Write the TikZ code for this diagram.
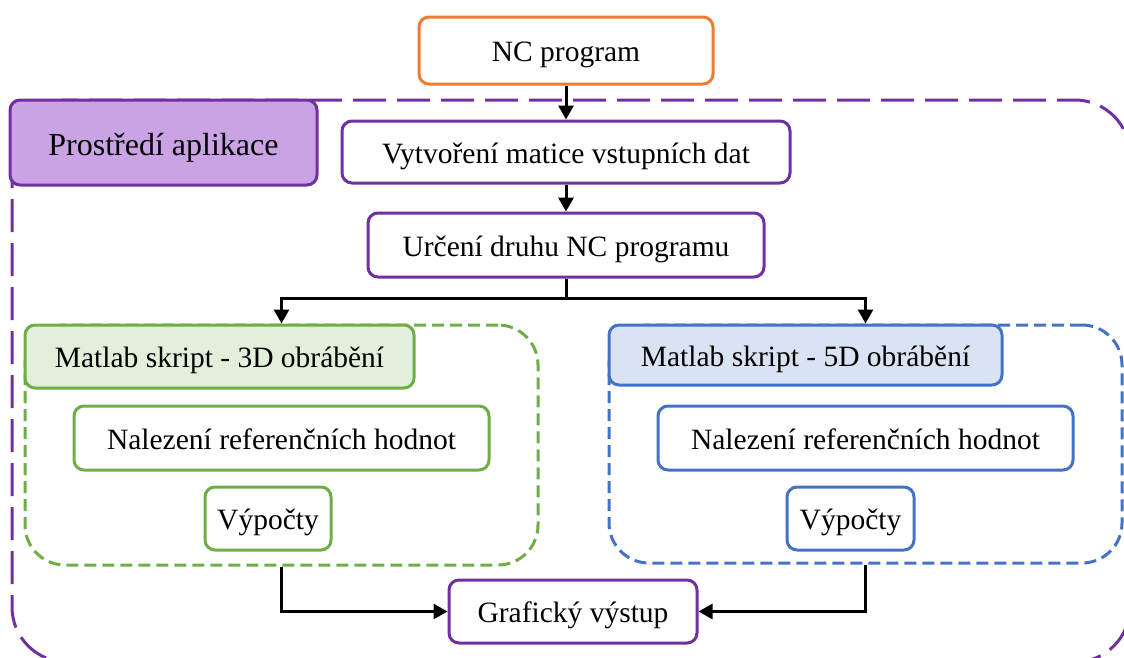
\documentclass[tikz,border=0pt]{standalone}
\usepackage{fontspec}
\setmainfont{Liberation Serif}
\usetikzlibrary{arrows.meta,positioning}

\definecolor{ncorange}{HTML}{ED7D31}
\definecolor{apppurple}{HTML}{7030A0}
\definecolor{appfill}{HTML}{C9A3E3}
\definecolor{gr}{HTML}{70AD47}
\definecolor{grfill}{HTML}{E2EFDA}
\definecolor{bl}{HTML}{4472C4}
\definecolor{blfill}{HTML}{DAE3F3}

\tikzset{
  box/.style={draw, line width=3pt, rounded corners=10pt, fill=white,
    inner sep=0pt, align=center, text height=24pt, text depth=2pt,
    font=\fontsize{29.5}{34}\selectfont},
  container/.style={draw, line width=3pt, rounded corners=40pt,
    inner sep=0pt, dash pattern=on 12pt off 6pt},
  conn/.style={line width=3pt, -{Triangle[length=14pt,width=15pt]}},
}

\begin{document}
\begin{tikzpicture}[x=1pt,y=-1pt]
\useasboundingbox (0,0) rectangle (1124,657);
\clip (0,0) rectangle (1124,657);

% application environment frame (runs past the page edges)
\draw[apppurple, line width=3pt, rounded corners=55pt, dash pattern=on 33pt off 11pt]
  (12,100) rectangle (1130,662);

% top input
\node[box, draw=ncorange, minimum width=294pt, minimum height=67pt] (nc) at (566,50.5) {NC program};

% environment label
\node[box, draw=apppurple, fill=appfill, minimum width=307pt, minimum height=85pt,
  text height=27pt, font=\fontsize{32}{38}\selectfont] (env) at (163.5,142.5) {Prostředí aplikace};

\node[box, draw=apppurple, minimum width=448pt, minimum height=62pt] (vyt) at (566,152) {Vytvoření matice vstupních dat};
\node[box, draw=apppurple, minimum width=396pt, minimum height=64pt] (urc) at (566,245) {Určení druhu NC programu};

% script containers
\node[container, draw=gr, minimum width=513pt, minimum height=240pt] (g) at (281.5,445) {};
\node[container, draw=bl, minimum width=513pt, minimum height=238pt] (b) at (865.5,444) {};

\node[box, draw=gr, fill=grfill, minimum width=389pt, minimum height=63pt, anchor=north west] (glab) at (g.north west) {Matlab skript - 3D obrábění};
\node[box, draw=bl, fill=blfill, minimum width=393pt, minimum height=60pt, anchor=north west] (blab) at (b.north west) {Matlab skript - 5D obrábění};

\node[box, draw=gr, minimum width=415pt, minimum height=64pt] (gnal) at (281.5,438) {Nalezení referenčních hodnot};
\node[box, draw=gr, minimum width=126pt, minimum height=63pt] (gvyp) at (268,518.5) {Výpočty};
\node[box, draw=bl, minimum width=415pt, minimum height=64pt] (bnal) at (865.5,438) {Nalezení referenčních hodnot};
\node[box, draw=bl, minimum width=127pt, minimum height=63pt] (bvyp) at (850.5,518.5) {Výpočty};

\node[box, draw=apppurple, minimum width=248pt, minimum height=63pt] (gout) at (573,611.5) {Grafický výstup};

% connectors
\draw[conn] (nc.south) -- (vyt.north);
\draw[conn] (vyt.south) -- (urc.north);
\coordinate (split) at (566,298);
\draw[line width=3pt] (urc.south) -- (split);
\draw[conn] (split) -| (g.north);
\draw[conn] (split) -| (b.north);
\draw[conn] (g.south) |- (gout.west);
\draw[conn] (b.south) |- (gout.east);
\end{tikzpicture}
\end{document}
